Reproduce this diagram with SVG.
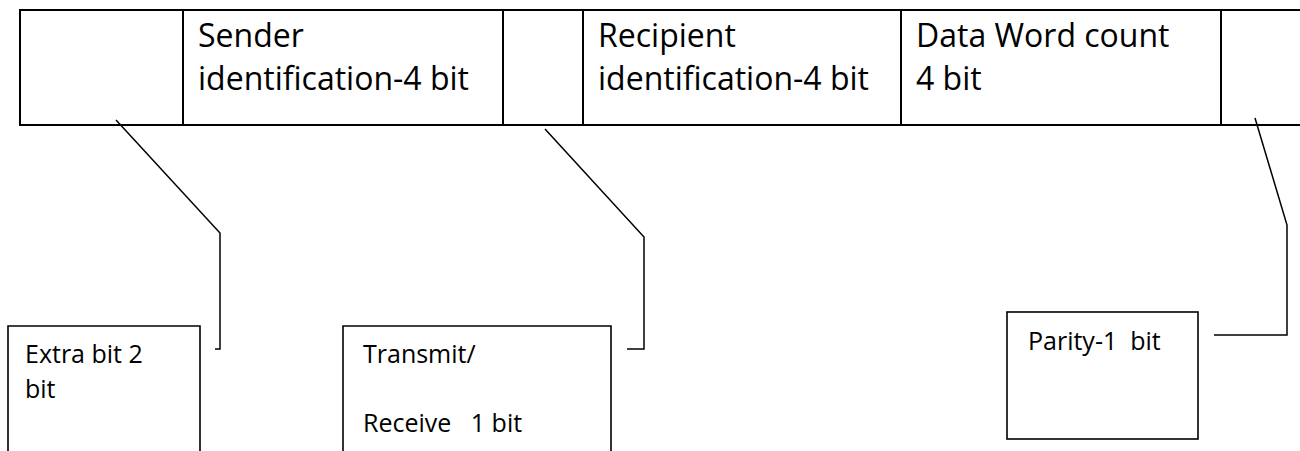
<svg xmlns="http://www.w3.org/2000/svg" width="1300" height="451" viewBox="0 0 1300 451">
<style>
.t{font-family:"Open Sans","Noto Sans","Liberation Sans",sans-serif;fill:#000;white-space:pre}
.big{font-size:32px}
.small{font-size:25px}
.frame{fill:#fff;stroke:#000;stroke-width:2}
.box{fill:#fff;stroke:#000;stroke-width:1.6}
.conn{fill:none;stroke:#000;stroke-width:1.5}
</style>
<rect width="1300" height="451" fill="#fff"/>
<g id="frame-table">
<path class="frame" d="M1302 10 H20 V125 H1302"/>
<line x1="183" y1="10" x2="183" y2="125" stroke="#000" stroke-width="2"/>
<line x1="503" y1="10" x2="503" y2="125" stroke="#000" stroke-width="2"/>
<line x1="583" y1="10" x2="583" y2="125" stroke="#000" stroke-width="2"/>
<line x1="901" y1="10" x2="901" y2="125" stroke="#000" stroke-width="2"/>
<line x1="1221" y1="10" x2="1221" y2="125" stroke="#000" stroke-width="2"/>
</g>
<g id="field-sender">
<text class="t big" x="198" y="47">Sender</text>
<text class="t big" x="198" y="90">identification-4 bit</text>
</g>
<g id="field-recipient">
<text class="t big" x="598" y="47">Recipient</text>
<text class="t big" x="598" y="90">identification-4 bit</text>
</g>
<g id="field-count">
<text class="t big" x="916" y="47">Data Word count</text>
<text class="t big" x="916" y="90">4 bit</text>
</g>
<g id="connectors">
<polyline class="conn" points="116,120 220,233 220,349 215,349"/>
<polyline class="conn" points="545,129 644,237 644,349 627,349"/>
<polyline class="conn" points="1255,118 1287,225 1287,335 1214,335"/>
</g>
<g id="node-extra">
<path class="box" d="M8 460 V326 H200 V460"/>
<text class="t small" x="25" y="363">Extra bit 2</text>
<text class="t small" x="25" y="398">bit</text>
</g>
<g id="node-transmit">
<path class="box" d="M343 460 V326 H611 V460"/>
<text class="t small" x="363" y="363">Transmit/</text>
<text class="t small" x="363" y="432">Receive   1 bit</text>
</g>
<g id="node-parity">
<rect class="box" x="1007" y="312" width="191" height="127"/>
<text class="t small" x="1028" y="350">Parity-1  bit</text>
</g>
</svg>
